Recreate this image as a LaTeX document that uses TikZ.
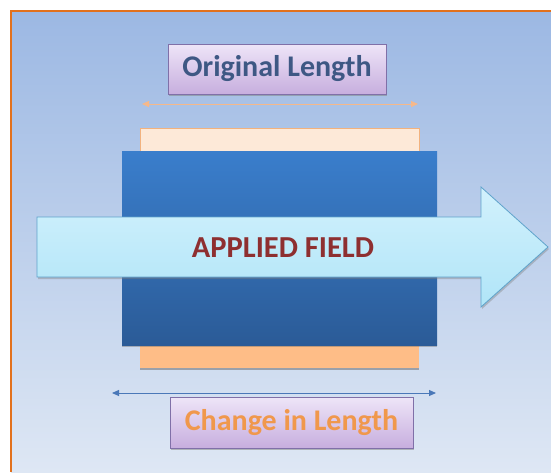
\documentclass[tikz,border=0pt]{standalone}
\usepackage{fontspec}
\setmainfont{Carlito}
\usetikzlibrary{shadows,arrows.meta}

\definecolor{panelTop}{HTML}{9CB8E3}
\definecolor{panelBottom}{HTML}{DEE7F4}
\definecolor{frameOrange}{HTML}{E2711D}
\definecolor{boxTop}{HTML}{EEE5F8}
\definecolor{boxBottom}{HTML}{C7AEDE}
\definecolor{boxLine}{HTML}{8070A8}
\definecolor{origText}{HTML}{3E5884}
\definecolor{changeText}{HTML}{F0984C}
\definecolor{fieldText}{HTML}{8E2F30}
\definecolor{paleBar}{HTML}{FDE9D8}
\definecolor{paleLine}{HTML}{F2B27E}
\definecolor{warmBar}{HTML}{FEBD87}
\definecolor{rodTop}{HTML}{3A7ECC}
\definecolor{rodBottom}{HTML}{2B5B97}
\definecolor{fieldTop}{HTML}{D2F1FC}
\definecolor{fieldBottom}{HTML}{B0E5F8}
\definecolor{fieldLine}{HTML}{5FA3CB}
\definecolor{dimBlue}{HTML}{4A78B8}
\definecolor{dimOrange}{HTML}{F6B88A}

\begin{document}
\begin{tikzpicture}[x=1pt, y=-1pt,
	labelbox/.style={draw=boxLine, line width=0.8pt, top color=boxTop, bottom color=boxBottom,
		drop shadow={shadow xshift=1pt, shadow yshift=-2pt, fill=black!50, opacity=0.5},
		font=\bfseries\fontsize{30}{32}\selectfont, inner sep=0pt},
	dimline/.style={line width=1pt, {Triangle[length=7pt,width=6pt]}-{Triangle[length=7pt,width=6pt]}}]
	\useasboundingbox (0, 0) rectangle (551, 472);
	\fill [white] (0, 0) rectangle (551, 472);

	% panel with the orange frame on two sides
	\shade [top color=panelTop, bottom color=panelBottom] (11, 11) rectangle (551, 472);
	\draw [frameOrange, line width=2.5pt] (11, 472) -- (11, 11) -- (551, 11);

	% the bars and the rod
	\node [draw=paleLine, line width=0.8pt, fill=paleBar, minimum width=279pt, minimum height=30pt,
		inner sep=0pt] (before) at (279.5, 143) {};
	\node [fill=warmBar, minimum width=279pt, minimum height=36pt, inner sep=0pt,
		drop shadow={shadow xshift=0pt, shadow yshift=-1.5pt, fill=black!60, opacity=0.5}] (after) at (279.5, 350) {};
	\node [top color=rodTop, bottom color=rodBottom, minimum width=315pt, minimum height=194pt, inner sep=0pt,
		drop shadow={shadow xshift=0pt, shadow yshift=-1.5pt, fill=black!60, opacity=0.4}] (rod) at (279.5, 248) {};

	% field arrow
	\draw [fieldLine, line width=0.8pt, top color=fieldTop, bottom color=fieldBottom,
		drop shadow={shadow xshift=1pt, shadow yshift=-2pt, fill=black!50, opacity=0.4}]
		(37, 217) -- (481, 217) -- (481, 187) -- (548, 247) -- (481, 307) -- (481, 277) -- (37, 277) -- cycle;
	\node [fieldText, font=\bfseries\fontsize{30.5}{32}\selectfont, anchor=base] (field) at (283, 257.5) {APPLIED FIELD};

	% labels
	\node [labelbox, minimum width=218pt, minimum height=50pt, text=origText] (original) at (277, 69) {Original Length};
	\node [labelbox, minimum width=243pt, minimum height=51pt, text=changeText] (change) at (291.5, 422.5) {Change in Length};

	% length markers
	\coordinate (o1) at (142, 104);
	\coordinate (o2) at (418, 104);
	\draw [dimline, dimOrange] (o1) -- (o2);
	\coordinate (c1) at (112, 393);
	\coordinate (c2) at (436, 393);
	\draw [dimline, dimBlue] (c1) -- (c2);
\end{tikzpicture}
\end{document}
